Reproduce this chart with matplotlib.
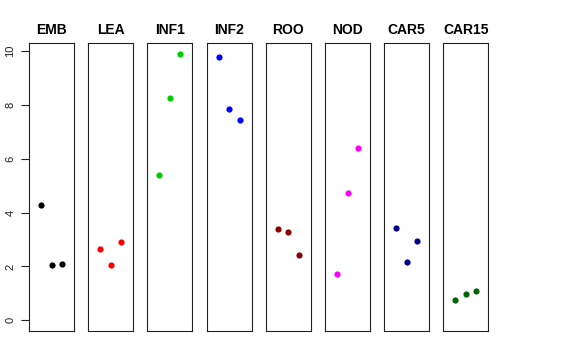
import matplotlib
matplotlib.use("Agg")
import matplotlib.pyplot as plt

# tissues and their three expression values
tissues = ["EMB", "LEA", "INF1", "INF2", "ROO", "NOD", "CAR5", "CAR15"]
values = [
    [4.29, 2.04, 2.10],
    [2.63, 2.07, 2.91],
    [5.40, 8.25, 9.90],
    [9.78, 7.84, 7.43],
    [3.39, 3.28, 2.44],
    [1.72, 4.73, 6.38],
    [3.44, 2.15, 2.93],
    [0.74, 0.98, 1.08],
]
colors = ["black", "#FF0000", "#00CD00", "#0000FF", "#8B0000", "#FF00FF", "#00008B", "#006400"]
reps = [1, 2, 3]
yticks = [0, 2, 4, 6, 8, 10]

plt.rcParams["font.family"] = ["Liberation Sans", "DejaVu Sans"]

W, H = 576, 360
fig = plt.figure(figsize=(W / 100, H / 100), dpi=100)

left0 = 29.0
step = 59.2
pw = 45.0
top, bottom = 43.0, 331.0

for i, (name, vals, col) in enumerate(zip(tissues, values, colors)):
    x0 = left0 + i * step
    ax = fig.add_axes([x0 / W, (H - bottom) / H, pw / W, (bottom - top) / H])
    ax.scatter(reps, vals, s=20, color=col, linewidths=0, zorder=3)
    ax.set_xlim(-0.16, 4.16)
    ax.set_ylim(-0.396, 10.296)
    ax.set_xticks([])
    for sp in ax.spines.values():
        sp.set_linewidth(0.8)
        sp.set_color("#222222")
    ax.set_title(name, fontsize=10, fontweight="bold", pad=6.5)
    if i == 0:
        ax.set_yticks(yticks)
        ax.tick_params(axis="y", length=5.8, width=0.8, color="#222222",
                       labelsize=8, pad=4, labelcolor="#222222")
        for lab in ax.get_yticklabels():
            lab.set_rotation(90)
            lab.set_va("center")
    else:
        ax.set_yticks([])

fig.savefig("out.png", dpi=100)
